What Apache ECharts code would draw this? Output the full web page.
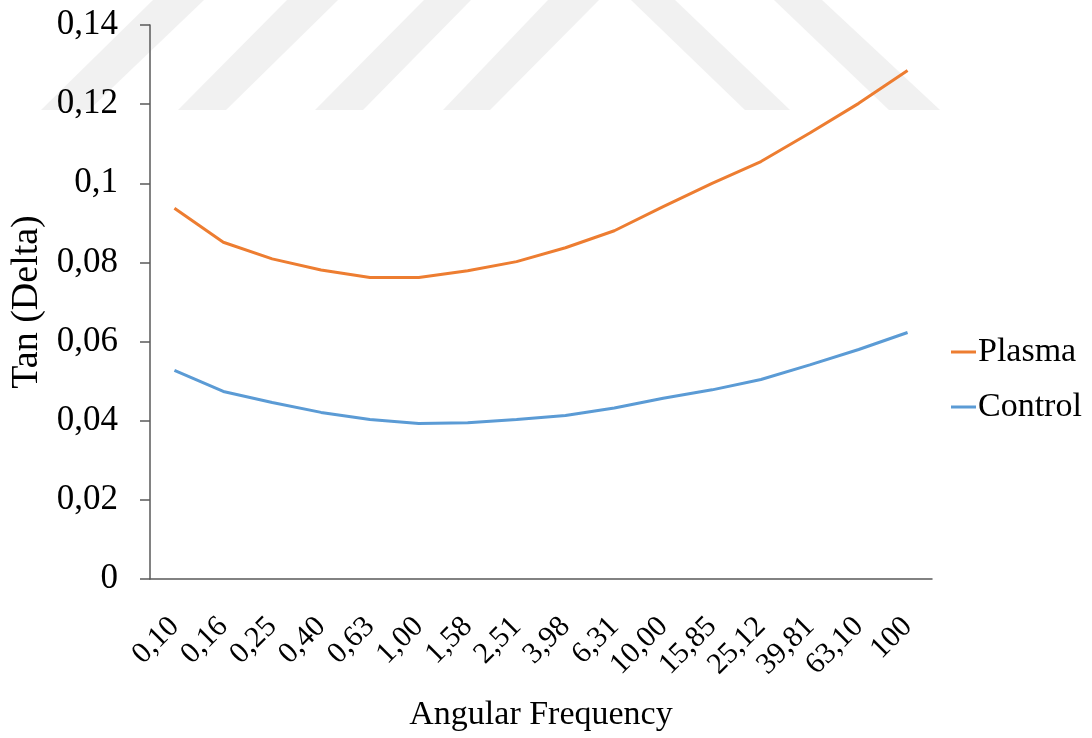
<!DOCTYPE html>
<html>
<head>
<meta charset="utf-8">
<script src="https://cdn.jsdelivr.net/npm/echarts@6/dist/echarts.min.js"></script>
<style>
html,body{margin:0;padding:0;background:#fff;}
#chart{width:1092px;height:738px;}
</style>
</head>
<body>
<div id="chart"></div>
<script>
var categories = ['0,10','0,16','0,25','0,40','0,63','1,00','1,58','2,51','3,98','6,31','10,00','15,85','25,12','39,81','63,10','100'];
var plasma = [0.0937,0.0851,0.0809,0.0781,0.0762,0.0762,0.0779,0.0802,0.0837,0.0880,0.0941,0.1000,0.1055,0.1127,0.1202,0.1285];
var control = [0.0527,0.0474,0.0446,0.0421,0.0403,0.0393,0.0395,0.0403,0.0413,0.0432,0.0457,0.0478,0.0504,0.0541,0.0580,0.0623];
var yMin = 0, yMax = 0.14, yStep = 0.02;

var FONT = "'Liberation Serif','Times New Roman',serif";

// faint background watermark stripes
var stripes = [
  [[41,110],[89,110],[204,0],[153,0]],
  [[178,110],[226,110],[338,0],[287,0]],
  [[315,110],[363,110],[471,0],[424,0]],
  [[443,110],[490,110],[599,0],[548,0]],
  [[745,110],[790,110],[675,0],[631,0]],
  [[889,110],[940,110],[822,0],[774,0]]
];
var graphics = stripes.map(function(p){
  return {type:'polygon', silent:true, z:-10, shape:{points:p}, style:{fill:'#f1f1f1'}};
});

var chart = echarts.init(document.getElementById('chart'));
chart.setOption({
  backgroundColor:'#ffffff',
  animation:false,
  graphic: graphics,
  grid:{left:150, right:160, top:25, bottom:159, containLabel:false, outerBoundsMode:'none'},
  legend:{
    orient:'vertical', left:946, top:330,
    icon:'rect', itemWidth:25, itemHeight:3, itemGap:21,
    textStyle:{fontFamily:FONT, fontSize:34, color:'#000', padding:[0,0,0,-3]},
    data:['Plasma','Control']
  },
  xAxis:{
    type:'category', data:categories, boundaryGap:true,
    name:'Angular Frequency', nameLocation:'middle', nameGap:119,
    nameTextStyle:{fontFamily:FONT, fontSize:34, color:'#000'},
    axisLine:{lineStyle:{color:'#595959', width:1.5}},
    axisTick:{show:false},
    axisLabel:{rotate:45, margin:43, interval:0, fontFamily:FONT, fontSize:30, color:'#000'}
  },
  yAxis:{
    type:'value', min:yMin, max:yMax, interval:yStep,
    name:'Tan (Delta)', nameLocation:'middle', nameGap:102,
    nameTextStyle:{fontFamily:FONT, fontSize:38, color:'#000'},
    axisLine:{show:true, lineStyle:{color:'#595959', width:1.5}},
    axisTick:{show:true, inside:false, length:10, lineStyle:{color:'#595959', width:1.5}},
    splitLine:{show:false},
    axisLabel:{margin:32, fontFamily:FONT, fontSize:35, color:'#000',
      formatter:function(v){ return String(Number(v.toFixed(2))).replace('.', ','); }}
  },
  series:[
    {name:'Plasma', type:'line', data:plasma, symbol:'none', smooth:false,
     lineStyle:{color:'#ED7D31', width:3}, itemStyle:{color:'#ED7D31'}},
    {name:'Control', type:'line', data:control, symbol:'none', smooth:false,
     lineStyle:{color:'#5B9BD5', width:3}, itemStyle:{color:'#5B9BD5'}}
  ]
});
</script>
</body>
</html>
